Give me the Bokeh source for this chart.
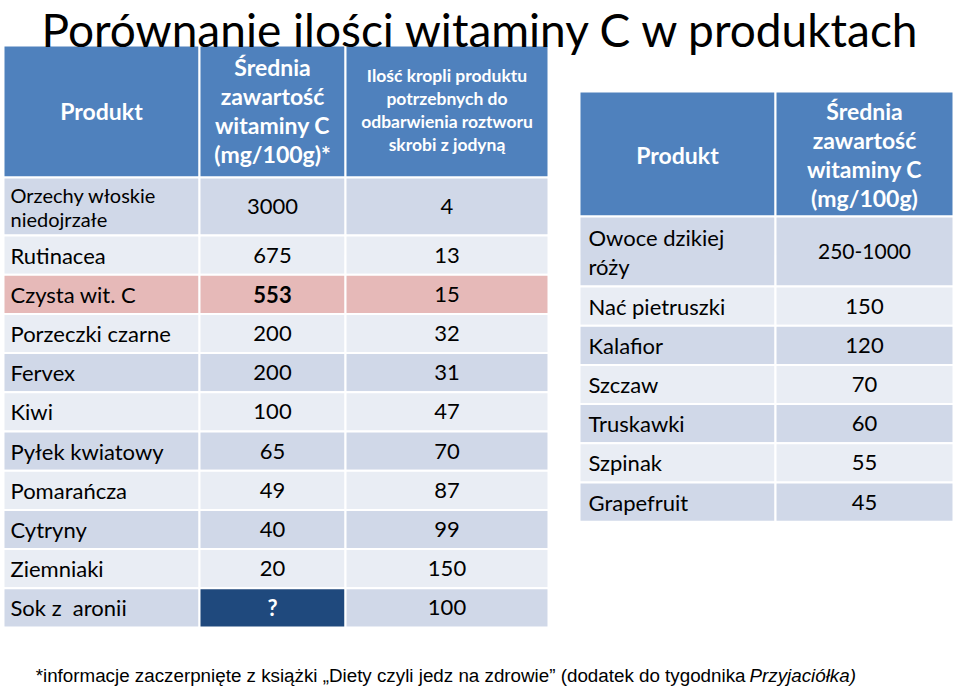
from bokeh.plotting import figure
from bokeh.models import Range1d, ColumnDataSource
from bokeh.core.properties import value
from bokeh.embed import file_html
from bokeh.resources import INLINE

# ---------------- data ----------------
title_text = "Porównanie ilości witaminy C w produktach"

left_headers = ["Produkt", "Średnia\nzawartość\nwitaminy C\n(mg/100g)*",
                "Ilość kropli produktu\npotrzebnych do\nodbarwienia roztworu\nskrobi z jodyną"]
left_products = ["Orzechy włoskie\nniedojrzałe", "Rutinacea", "Czysta wit. C", "Porzeczki czarne",
                 "Fervex", "Kiwi", "Pyłek kwiatowy", "Pomarańcza", "Cytryny", "Ziemniaki", "Sok z\u00a0 aronii"]
left_vitc = ["3000", "675", "553", "200", "200", "100", "65", "49", "40", "20", "?"]
left_drops = ["4", "13", "15", "32", "31", "47", "70", "87", "99", "150", "100"]

right_headers = ["Produkt", "Średnia\nzawartość\nwitaminy C\n(mg/100g)"]
right_products = ["Owoce dzikiej\nróży", "Nać pietruszki", "Kalafior", "Szczaw",
                  "Truskawki", "Szpinak", "Grapefruit"]
right_vitc = ["250-1000", "150", "120", "70", "60", "55", "45"]

footnote_main = "*informacje zaczerpnięte z książki „Diety czyli jedz na zdrowie” (dodatek do tygodnika"
footnote_italic = "Przyjaciółka)"

# ---------------- styles / layout ----------------
FONT = "Lato"
HEAD_BLUE = "#4F81BD"
DARK = "#D0D8E8"
LIGHT = "#E9EDF4"
PINK = "#E6B9B8"
NAVY = "#1F497D"
BODY = 22

p = figure(width=960, height=690, output_backend="svg", toolbar_location=None,
           x_range=Range1d(0, 960), y_range=Range1d(690, 0),
           x_axis_location=None, y_axis_location=None, min_border=0,
           outline_line_color=None, background_fill_color="white")
p.grid.visible = False

cells = dict(left=[], right=[], top=[], bottom=[], color=[])
texts = {}


def add_cell(x0, x1, y0, y1, color):
    cells["left"].append(x0); cells["right"].append(x1)
    cells["top"].append(y0); cells["bottom"].append(y1)
    cells["color"].append(color)


def add_text(label, x, yc, size, color="black", bold=False, italic=False, align="center", lh=None):
    lines = label.split("\n")
    n = len(lines)
    lh = lh if lh is not None else size * 1.2
    style = "bold" if bold else ("italic" if italic else "normal")
    key = (size, color, style, align)
    d = texts.setdefault(key, dict(x=[], y=[], t=[]))
    for i, ln in enumerate(lines):
        d["x"].append(x)
        d["y"].append(yc + (i - (n - 1) / 2) * lh)
        d["t"].append(ln)


# ---------- left table ----------
LX = [3, 199, 345, 548]
L_HEAD = (45, 177)
L_FIRST = 58
L_ROW = 39.2
L_HL_ROW = 2          # highlighted row
L_Q_ROW = len(left_products) - 1

for c in range(3):
    add_cell(LX[c], LX[c + 1], L_HEAD[0], L_HEAD[1], HEAD_BLUE)
add_text(left_headers[0], (LX[0] + LX[1]) / 2, 110, 23, "white", bold=True)
add_text(left_headers[1], (LX[1] + LX[2]) / 2, 110, 23, "white", bold=True, lh=29)
add_text(left_headers[2], (LX[2] + LX[3]) / 2, 109, 17.5, "white", bold=True, lh=23)

y = L_HEAD[1]
for i, prod in enumerate(left_products):
    h = L_FIRST if i == 0 else L_ROW
    base = DARK if i % 2 == 0 else LIGHT
    for c in range(3):
        col = base
        if i == L_HL_ROW:
            col = PINK
        if i == L_Q_ROW and c == 1:
            col = NAVY
        add_cell(LX[c], LX[c + 1], y, y + h, col)
    yc = y + h / 2
    if "\n" in prod:
        add_text(prod, LX[0] + 7, yc, 20, align="left", lh=24)
    else:
        add_text(prod, LX[0] + 7, yc, BODY, align="left")
    add_text(left_vitc[i], (LX[1] + LX[2]) / 2, yc, BODY,
             "white" if i == L_Q_ROW else "black", bold=(i == L_HL_ROW or i == L_Q_ROW))
    add_text(left_drops[i], (LX[2] + LX[3]) / 2, yc, BODY)
    y += h

# ---------- right table ----------
RX = [579, 775, 953]
R_HEAD = (91, 216)
R_FIRST = 70
R_ROW = 39.2
for c in range(2):
    add_cell(RX[c], RX[c + 1], R_HEAD[0], R_HEAD[1], HEAD_BLUE)
add_text(right_headers[0], (RX[0] + RX[1]) / 2, 154, 23, "white", bold=True)
add_text(right_headers[1], (RX[1] + RX[2]) / 2, 154, 23, "white", bold=True, lh=29)

y = R_HEAD[1]
for i, prod in enumerate(right_products):
    h = R_FIRST if i == 0 else R_ROW
    base = DARK if i % 2 == 0 else LIGHT
    for c in range(2):
        add_cell(RX[c], RX[c + 1], y, y + h, base)
    yc = y + h / 2
    add_text(prod, RX[0] + 9, yc, BODY, align="left", lh=29)
    add_text(right_vitc[i], (RX[1] + RX[2]) / 2, yc, 21 if i == 0 else BODY)
    y += h

p.quad(left="left", right="right", top="top", bottom="bottom", fill_color="color",
       line_color="white", line_width=2, source=ColumnDataSource(cells))

for (size, color, style, align), d in texts.items():
    p.text(x="x", y="y", text="t", source=ColumnDataSource(d),
           text_font=value(FONT), text_font_size=f"{size}px", text_color=color,
           text_font_style=style, text_align=align, text_baseline="middle")

# ---------- title & footnote ----------
p.text(x=[481], y=[29], text=[title_text], text_font=value(FONT), text_font_size="46px",
       text_color="black", text_align="center", text_baseline="middle")
p.text(x=[745], y=[675], text=[footnote_main], text_font=value("Liberation Sans"),
       text_font_size="18.8px", text_color="black", text_align="right", text_baseline="middle")
p.text(x=[749], y=[675], text=[footnote_italic], text_font=value("Liberation Sans"),
       text_font_size="18.8px", text_color="black", text_font_style="italic",
       text_align="left", text_baseline="middle")

open("out.html", "w").write(file_html(p, INLINE))
